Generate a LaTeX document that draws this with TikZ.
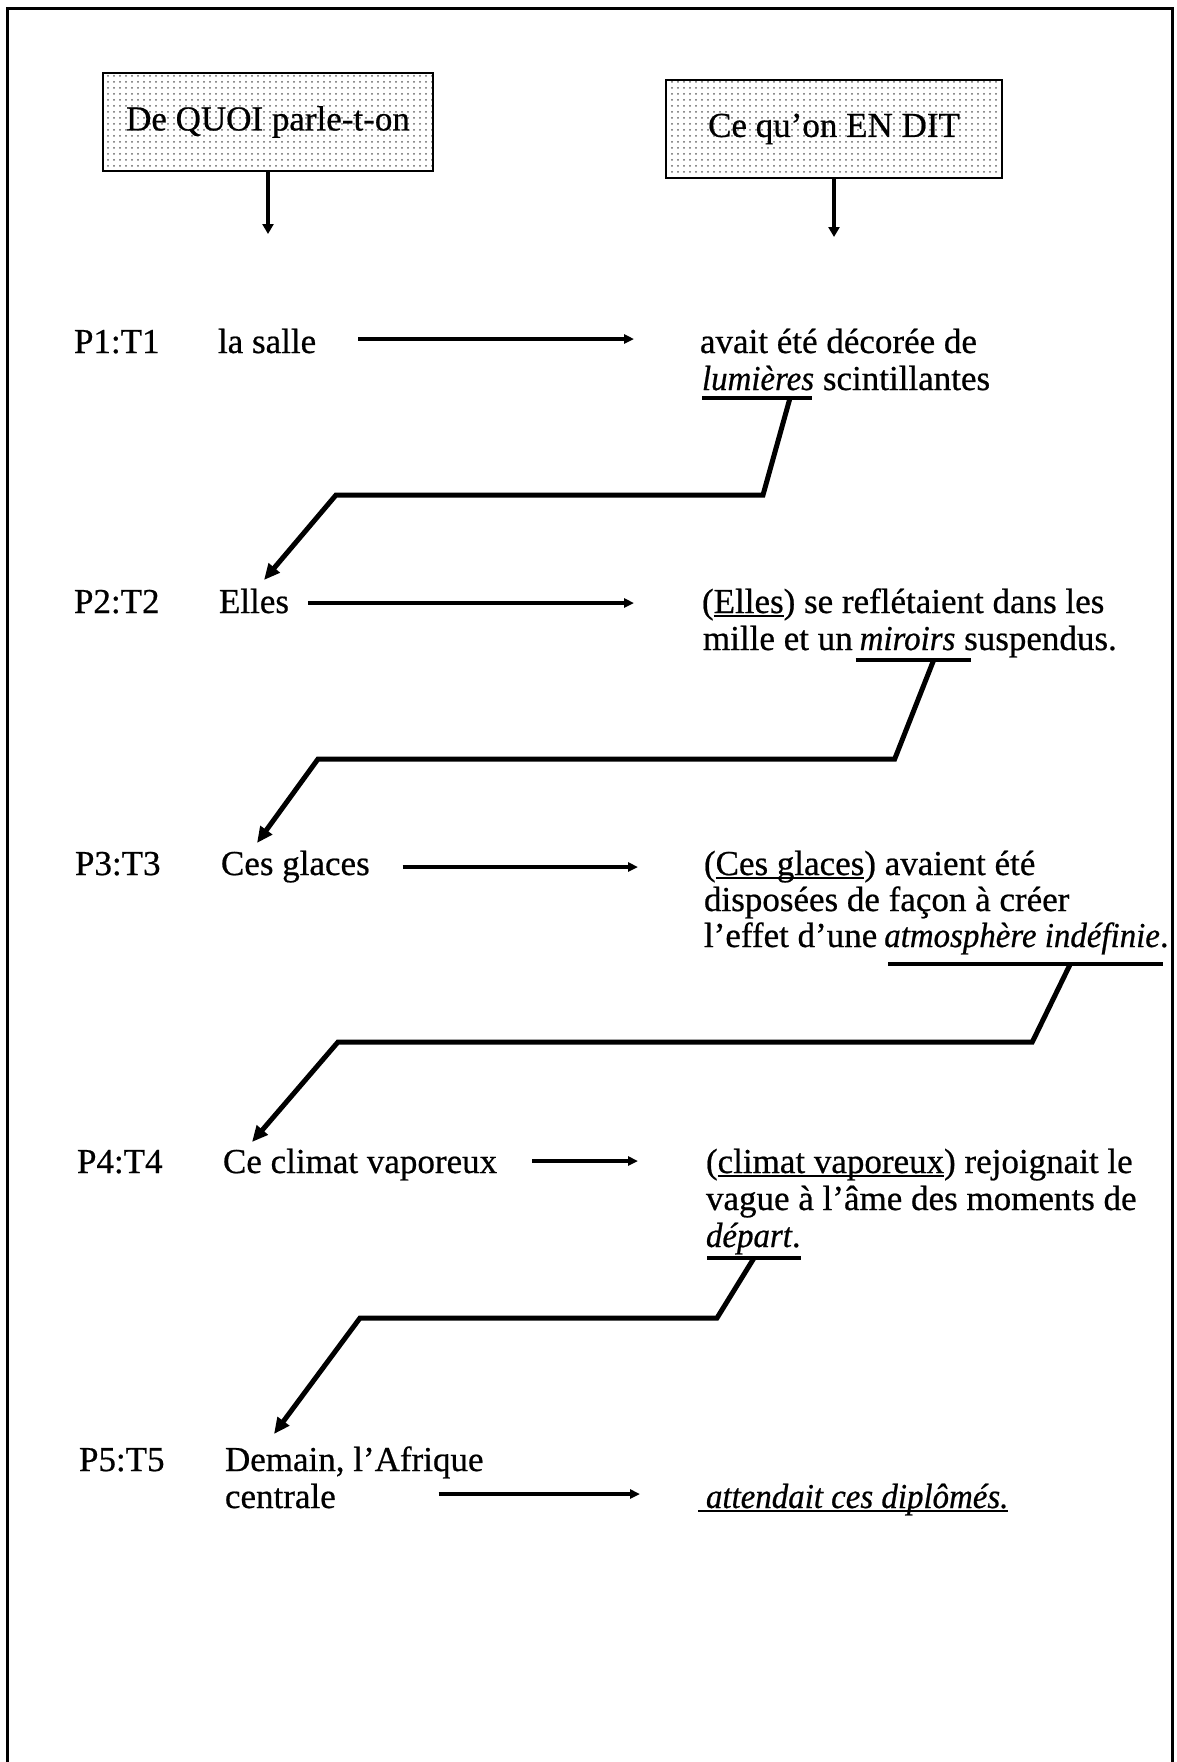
\documentclass[tikz,border=0pt]{standalone}
\usepackage{fontspec}
\setmainfont{Liberation Serif}[FakeBold=0.6, ItalicFeatures={FakeStretch=0.94, FakeBold=0.6}]
\usetikzlibrary{arrows.meta,calc,patterns}
\newcommand\bodysize{\fontsize{17.5}{18.5}\selectfont}
% thin underline drawn just under the baseline
\newcommand\thinul[1]{\setbox0=\hbox{#1}\rlap{\vrule width\wd0 height -1.2pt depth 2.2pt}\box0}

\begin{document}
\begin{tikzpicture}[x=0.5pt,y=-0.5pt,
  txt/.style={inner sep=0pt, outer sep=0pt, anchor=base west, font=\bodysize},
  headbox/.style={draw, line width=1.4pt, pattern=dots, pattern color=black!60,
                  inner sep=0pt, minimum height=49pt, font=\bodysize},
  vdown/.style={line width=2pt, -{Triangle[length=5pt,width=5.5pt]}},
  harrow/.style={line width=2pt, -{Triangle[length=5pt,width=4.5pt]}},
  zigzag/.style={line width=2.5pt, line join=miter, -{Triangle[length=8pt,width=7pt]}},
  thickul/.style={line width=2pt}]
\useasboundingbox (0,0) rectangle (1177,1762);

% outer frame, open at the bottom
\draw[line width=1.5pt] (7,1762) -- (7,8) -- (1172,8) -- (1172,1762);

% column headings
\node[headbox, minimum width=165pt] (h1) at (268,122) {De QUOI parle-t-on};
\node[headbox, minimum width=168pt] (h2) at (834,129) {Ce qu’on EN DIT};
\coordinate (h1end) at (268,234);
\coordinate (h2end) at (834,237);
\draw[vdown] (h1) -- (h1end);
\draw[vdown] (h2) -- (h2end);

% row labels
\node[txt] (p1) at (74,353)  {P1:T1};
\node[txt] (p2) at (74,613)  {P2:T2};
\node[txt] (p3) at (75,875)  {P3:T3};
\node[txt] (p4) at (77,1173) {P4:T4};
\node[txt] (p5) at (79,1471) {P5:T5};

% themes
\node[txt] (t1) at (218,353)  {la salle};
\node[txt] (t2) at (219,613)  {Elles};
\node[txt] (t3) at (221,875)  {Ces glaces};
\node[txt] (t4) at (223,1173) {Ce climat vaporeux};
\node[txt] (t5) at (225,1471) {Demain, l’Afrique};
\node[txt] (t5b) at (225,1508) {centrale};

% rhemes
\node[txt] (d1a) at (700,353) {avait été décorée de};
\node[txt] (w1)  at (702,390) {\textit{lumières}};
\node[txt] (d1b) at ([xshift=4.4pt]w1.base east) {scintillantes};

\node[txt] (d2a) at (702,613) {(\thinul{Elles}) se reflétaient dans les};
\node[txt] (d2b) at (703,650) {mille et un};
\node[txt] (w2)  at ([xshift=3.5pt]d2b.base east) {\textit{miroirs}};
\node[txt] (d2c) at ([xshift=4.4pt]w2.base east) {suspendus.};

\node[txt] (d3a) at (704,875) {(\thinul{Ces glaces}) avaient été};
\node[txt] (d3b) at (704,911) {disposées de façon à créer};
\node[txt] (d3c) at (704,947) {l’effet d’une};
\node[txt] (w3)  at ([xshift=3.5pt]d3c.base east) {\textit{atmosphère indéfinie}.};

\node[txt] (d4a) at (706,1173) {(\thinul{climat vaporeux}) rejoignait le};
\node[txt] (d4b) at (706,1210) {vague à l’âme des moments de};
\node[txt] (w4)  at (706,1247) {\textit{départ}.};

\node[txt] (d5) at (698,1508) {\thinul{\hspace{4pt}\textit{attendait ces diplômés.}}};

% theme -> rheme arrows
\draw[harrow] ($(t1.base east)+(42,-14)$)  -- ($(d1a.base west)+(-66,-14)$);
\draw[harrow] ($(t2.base east)+(19,-10)$)  -- ($(d2a.base west)+(-68,-10)$);
\draw[harrow] ($(t3.base east)+(33,-8)$)   -- ($(d3a.base west)+(-66,-8)$);
\draw[harrow] ($(t4.base east)+(35,-12)$)  -- ($(d4a.base west)+(-68,-12)$);
\draw[harrow] ($(t5b.base east)+(103,-14)$) -- ($(d5.base west)+(-58,-14)$);

% underlined rheme words that become the next theme
\draw[thickul] ($(w1.base west)+(0,8)$)  -- ($(w1.base east)+(-2,8)$);
\draw[thickul] ($(w2.base west)+(-4,10)$) -- ($(w2.base east)+(16,10)$);
\draw[thickul] ($(w3.base west)+(4,17)$) -- ($(w3.base east)+(-6,17)$);
\draw[thickul] ($(w4.base west)+(1,11)$) -- ($(w4.base east)+(0,11)$);

% progression from rheme to next theme
\draw[zigzag] ($(w1.base west)+(88,8)$)  -- ++(-27,97) -- ($(t2.base west)+(117,-118)$) -- ($(t2.base west)+(45,-33)$);
\draw[zigzag] ($(w2.base west)+(74,10)$)  -- ++(-39,99) -- ($(t3.base west)+(97,-116)$)  -- ($(t3.base west)+(36,-32)$);
\draw[zigzag] ($(w3.base west)+(186,17)$) -- ++(-38,78) -- ($(t4.base west)+(115,-131)$) -- ($(t4.base west)+(29,-31)$);
\draw[zigzag] ($(w4.base west)+(48,11)$)  -- ++(-37,60) -- ($(t5.base west)+(135,-153)$) -- ($(t5.base west)+(49,-37)$);
\end{tikzpicture}
\end{document}
